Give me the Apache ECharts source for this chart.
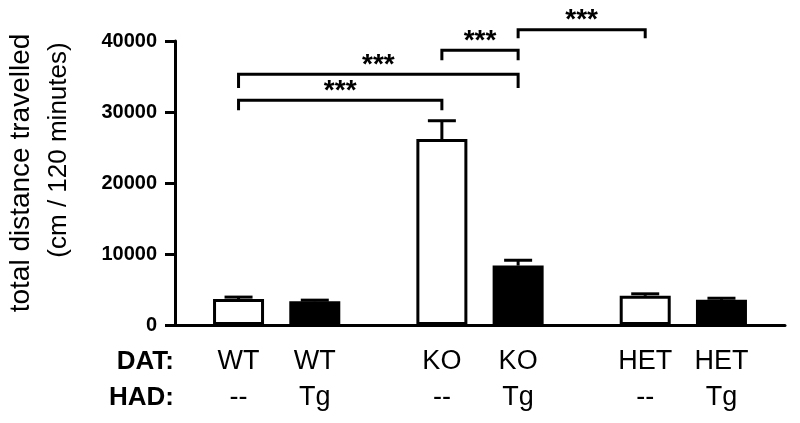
<!DOCTYPE html>
<html>
<head>
<meta charset="utf-8">
<script src="https://cdn.jsdelivr.net/npm/echarts@6/dist/echarts.min.js"></script>
<style>
  html, body { margin: 0; padding: 0; background: #fff; }
  #chart { width: 800px; height: 423px; }
</style>
</head>
<body>
<div id="chart"></div>
<script>
// group labels
const datLabels = ["WT", "WT", "KO", "KO", "HET", "HET"];
const hadLabels = ["--", "Tg", "--", "Tg", "--", "Tg"];

// mean and SEM (cm / 120 min)
const means = [3650, 3350, 26200, 8370, 4110, 3545];
const sems = [280, 150, 2570, 750, 280, 225];

// y axis ticks
const yMin = 0;
const yMax = 40000;
const yStep = 10000;

// significance brackets: group index from/to, bracket level, leg bottom
const sigFrom = [0, 0, 2, 3];
const sigTo = [2, 3, 3, 4];
const sigLevel = [31660, 35320, 38690, 41600];
const sigLegEnd = [30250, 33390, 37290, 40380];
const sigText = ["***", "***", "***", "***"];

// layout: groups sit on slots of a 24-slot category axis (pairs + wider gaps)
const slotCount = 24;
const slotOf = [2, 5, 10, 13, 18, 21];
const FONT = "'Liberation Sans', Arial, Helvetica, sans-serif";

const slotNames = [];
for (let i = 0; i < slotCount; i++) slotNames.push("s" + i);
const labelForSlot = {};
slotOf.forEach((s, i) => { labelForSlot[s] = datLabels[i] + "\n" + hadLabels[i]; });

const chart = echarts.init(document.getElementById("chart"));

chart.setOption({
  animation: false,
  backgroundColor: "#fff",
  grid: { left: 175, right: 15, top: 41, bottom: 98 },
  xAxis: {
    type: "category",
    data: slotNames,
    axisLine: { lineStyle: { color: "#000", width: 3 } },
    axisTick: { show: false },
    axisLabel: {
      interval: 0,
      margin: 19,
      color: "#000",
      fontFamily: FONT,
      fontSize: 27,
      lineHeight: 36,
      formatter: (v, idx) => labelForSlot[idx] || "",
    },
  },
  yAxis: {
    type: "value",
    min: yMin,
    max: yMax,
    interval: yStep,
    axisLine: { show: true, lineStyle: { color: "#000", width: 3 } },
    axisTick: { show: true, length: 10, lineStyle: { color: "#000", width: 3 } },
    axisLabel: {
      color: "#000",
      fontFamily: FONT,
      fontWeight: "bold",
      fontSize: 20,
      margin: 18,
      formatter: (v) => String(v),
    },
    splitLine: { show: false },
  },
  graphic: [
    { type: "text", x: 174, y: 362, style: { text: "DAT:", font: "bold 26px " + FONT, fill: "#000", align: "right", verticalAlign: "middle" } },
    { type: "text", x: 174, y: 398, style: { text: "HAD:", font: "bold 26px " + FONT, fill: "#000", align: "right", verticalAlign: "middle" } },
    { type: "text", x: 21, y: 173, rotation: Math.PI / 2, style: { text: "total distance travelled", font: "28px " + FONT, fill: "#000", align: "center", verticalAlign: "middle" } },
    { type: "text", x: 59, y: 150, rotation: Math.PI / 2, style: { text: "(cm / 120 minutes)", font: "26px " + FONT, fill: "#000", align: "center", verticalAlign: "middle" } },
  ],
  series: [
    {
      type: "bar",
      barWidth: 51,
      data: means.map((m, i) => ({
        value: [slotOf[i], m],
        itemStyle: {
          color: hadLabels[i] === "Tg" ? "#000" : "#fff",
          borderColor: "#000",
          borderWidth: 3,
        },
      })),
      z: 3,
    },
    {
      type: "custom",
      data: means.map((m, i) => [slotOf[i], m, m + sems[i]]),
      encode: { x: 0, y: [1, 2] },
      z: 4,
      renderItem: (params, api) => {
        const lo = api.coord([api.value(0), api.value(1)]);
        const hi = api.coord([api.value(0), api.value(2)]);
        const half = 14;
        const st = { stroke: "#000", lineWidth: 3 };
        return {
          type: "group",
          children: [
            { type: "line", shape: { x1: lo[0], y1: lo[1], x2: hi[0], y2: hi[1] }, style: st },
            { type: "line", shape: { x1: hi[0] - half, y1: hi[1], x2: hi[0] + half, y2: hi[1] }, style: st },
          ],
        };
      },
    },
    {
      type: "custom",
      clip: false,
      data: sigFrom.map((f, i) => [slotOf[f], slotOf[sigTo[i]], sigLevel[i], sigLegEnd[i], i]),
      encode: { x: [0, 1], y: [2, 3] },
      z: 5,
      renderItem: (params, api) => {
        const a = api.coord([api.value(0), api.value(3)]);
        const b = api.coord([api.value(0), api.value(2)]);
        const c = api.coord([api.value(1), api.value(2)]);
        const d = api.coord([api.value(1), api.value(3)]);
        return {
          type: "group",
          children: [
            {
              type: "polyline",
              shape: { points: [a, b, c, d] },
              style: { stroke: "#000", lineWidth: 3, fill: null, lineJoin: "miter" },
            },
            {
              type: "text",
              x: (b[0] + c[0]) / 2,
              y: b[1] - 9,
              style: {
                text: sigText[api.value(4)],
                font: "bold 28px " + FONT,
                fill: "#000",
                align: "center",
                verticalAlign: "middle",
              },
            },
          ],
        };
      },
    },
  ],
});
</script>
</body>
</html>
